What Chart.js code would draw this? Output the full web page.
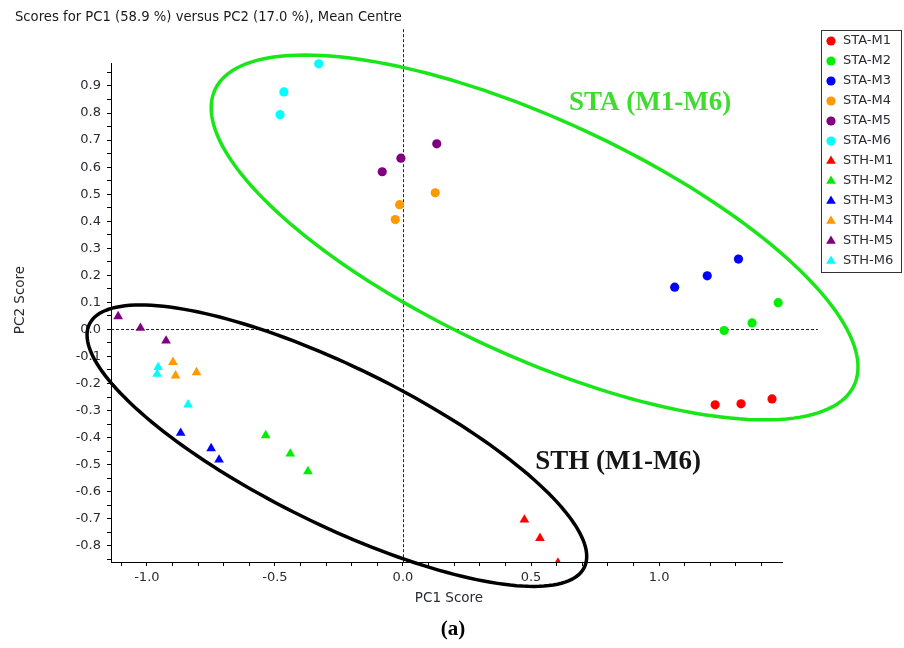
<!DOCTYPE html>
<html>
<head>
<meta charset="utf-8">
<script src="https://cdn.jsdelivr.net/npm/chart.js@4"></script>
<style>
  html, body { margin: 0; padding: 0; background: #fff; }
  #wrap { width: 904px; height: 648px; }
</style>
</head>
<body>
<div id="wrap"><canvas id="scores" width="904" height="648"></canvas></div>
<script>
// --- data ---
const seriesNames = ['STA-M1', 'STA-M2', 'STA-M3', 'STA-M4', 'STA-M5', 'STA-M6',
                     'STH-M1', 'STH-M2', 'STH-M3', 'STH-M4', 'STH-M5', 'STH-M6'];

const staM1 = [{x: 1.219, y: -0.279}, {x: 1.320, y: -0.275}, {x: 1.441, y: -0.257}];
const staM2 = [{x: 1.254, y: -0.004}, {x: 1.363, y: 0.024}, {x: 1.465, y: 0.099}];
const staM3 = [{x: 1.061, y: 0.156}, {x: 1.188, y: 0.198}, {x: 1.310, y: 0.260}];
const staM4 = [{x: 0.126, y: 0.505}, {x: -0.013, y: 0.461}, {x: -0.030, y: 0.406}];
const staM5 = [{x: 0.132, y: 0.686}, {x: -0.008, y: 0.633}, {x: -0.081, y: 0.583}];
const staM6 = [{x: -0.329, y: 0.982}, {x: -0.465, y: 0.878}, {x: -0.480, y: 0.794}];

const sthM1 = [{x: 0.474, y: -0.704}, {x: 0.535, y: -0.772}, {x: 0.605, y: -0.863}];
const sthM2 = [{x: -0.536, y: -0.392}, {x: -0.440, y: -0.460}, {x: -0.371, y: -0.525}];
const sthM3 = [{x: -0.868, y: -0.383}, {x: -0.749, y: -0.440}, {x: -0.718, y: -0.482}];
const sthM4 = [{x: -0.898, y: -0.121}, {x: -0.888, y: -0.171}, {x: -0.806, y: -0.159}];
const sthM5 = [{x: -1.112, y: 0.048}, {x: -1.025, y: 0.005}, {x: -0.925, y: -0.042}];
const sthM6 = [{x: -0.956, y: -0.140}, {x: -0.960, y: -0.165}, {x: -0.839, y: -0.278}];

const seriesData = [staM1, staM2, staM3, staM4, staM5, staM6, sthM1, sthM2, sthM3, sthM4, sthM5, sthM6];

// group ellipses (centre + two half-axes, in score units)
const staEllipse = {cx: 0.514, cy: 0.340, ux: 1.248, uy: -0.546, vx: -0.193, vy: -0.396};
const sthEllipse = {cx: -0.258, cy: -0.430, ux: 0.966, uy: -0.450, vx: -0.136, vy: -0.261};

const xRange = [-1.14, 1.48];
const yRange = [-0.86, 0.985];

// --- styles ---
const colors = ['#ff0000', '#00ee00', '#0000ff', '#ff9900', '#800080', '#00ffff'];
const FONT = '"DejaVu Sans", sans-serif';
const TEXT = '#2a2a35';

const datasets = seriesData.map((pts, i) => {
    const isSta = i < 6;
    return {
        label: seriesNames[i],
        data: pts,
        clip: isSta ? false : undefined,
        pointStyle: isSta ? 'circle' : 'triangle',
        pointRadius: isSta ? 4.6 : 5.6,
        pointHoverRadius: isSta ? 4.6 : 5.6,
        pointBorderWidth: 0,
        backgroundColor: colors[i % 6],
        borderColor: colors[i % 6]
    };
});

// draw the ellipse by sending points of it through the scales
function strokeEllipse(ctx, xs, ys, e, color) {
    ctx.save();
    ctx.strokeStyle = color;
    ctx.lineWidth = 3.5;
    ctx.beginPath();
    for (let k = 0; k <= 180; k++) {
        const t = k / 180 * Math.PI * 2;
        const px = xs.getPixelForValue(e.cx + e.ux * Math.cos(t) + e.vx * Math.sin(t));
        const py = ys.getPixelForValue(e.cy + e.uy * Math.cos(t) + e.vy * Math.sin(t));
        if (k === 0) ctx.moveTo(px, py); else ctx.lineTo(px, py);
    }
    ctx.closePath();
    ctx.stroke();
    ctx.restore();
}

const overlay = {
    id: 'overlay',
    beforeDatasetsDraw(chart) {
        const {ctx, chartArea, scales: {x, y}} = chart;
        ctx.save();
        ctx.strokeStyle = '#222';
        ctx.lineWidth = 1;
        ctx.setLineDash([3, 2]);
        const x0 = Math.round(x.getPixelForValue(0)) + 0.5;
        const y0 = Math.round(y.getPixelForValue(0)) + 0.5;
        ctx.beginPath();
        ctx.moveTo(x0, y.getPixelForValue(1.11));
        ctx.lineTo(x0, chartArea.bottom);
        ctx.moveTo(chartArea.left, y0);
        ctx.lineTo(x.getPixelForValue(1.62), y0);
        ctx.stroke();
        ctx.restore();
    },
    afterDatasetsDraw(chart) {
        const {ctx, scales: {x, y}} = chart;
        strokeEllipse(ctx, x, y, staEllipse, '#19e619');
        strokeEllipse(ctx, x, y, sthEllipse, '#000');

        ctx.save();
        ctx.font = 'bold 27px "Liberation Serif", serif';
        ctx.textAlign = 'center';
        ctx.textBaseline = 'middle';
        ctx.fillStyle = '#3fdc2f';
        ctx.fillText('STA (M1-M6)', x.getPixelForValue(0.965), y.getPixelForValue(0.837));
        ctx.fillStyle = '#151515';
        ctx.fillText('STH (M1-M6)', x.getPixelForValue(0.840), y.getPixelForValue(-0.490));
        ctx.restore();
    },
    afterDraw(chart) {
        const {ctx} = chart;
        ctx.save();
        // title
        ctx.fillStyle = '#1a1a1a';
        ctx.font = '13.2px ' + FONT;
        ctx.textAlign = 'left';
        ctx.textBaseline = 'middle';
        ctx.fillText('Scores for PC1 (58.9 %) versus PC2 (17.0 %), Mean Centre', 15, 18);

        // axis titles
        ctx.fillStyle = TEXT;
        ctx.font = '13.5px ' + FONT;
        ctx.textAlign = 'center';
        ctx.fillText('PC1 Score', 449, 598);
        ctx.save();
        ctx.translate(20, 300);
        ctx.rotate(-Math.PI / 2);
        ctx.fillText('PC2 Score', 0, 0);
        ctx.restore();

        // panel letter
        ctx.fillStyle = '#000';
        ctx.font = 'bold 21px "Liberation Serif", serif';
        ctx.fillText('(a)', 453, 630);

        // legend
        const lx = 821, ly = 30, lw = 80, lh = 242;
        ctx.strokeStyle = '#333';
        ctx.lineWidth = 1;
        ctx.strokeRect(lx + 0.5, ly + 0.5, lw, lh);
        ctx.font = '13px ' + FONT;
        ctx.textAlign = 'left';
        chart.data.datasets.forEach((ds, i) => {
            const cy = ly + 11 + i * 20;
            const cx = lx + 10;
            ctx.fillStyle = ds.backgroundColor;
            ctx.beginPath();
            if (ds.pointStyle === 'circle') {
                ctx.arc(cx, cy, 4.6, 0, Math.PI * 2);
            } else {
                const r = 5.6;
                ctx.moveTo(cx, cy - r);
                ctx.lineTo(cx + r * 0.866, cy + r / 2);
                ctx.lineTo(cx - r * 0.866, cy + r / 2);
                ctx.closePath();
            }
            ctx.fill();
            ctx.fillStyle = TEXT;
            ctx.fillText(ds.label, lx + 22, cy);
        });
        ctx.restore();
    }
};

const tickFont = { family: FONT, size: 13 };

new Chart(document.getElementById('scores').getContext('2d'), {
    type: 'scatter',
    data: { datasets },
    options: {
        responsive: false,
        animation: false,
        events: [],
        layout: { padding: { left: 0, top: 63, right: 122, bottom: 48 } },
        plugins: { legend: { display: false }, title: { display: false }, tooltip: { enabled: false } },
        scales: {
            x: {
                type: 'linear',
                position: 'bottom',
                min: xRange[0],
                max: xRange[1],
                afterFit: (s) => { s.height = 38; },
                grid: { drawOnChartArea: false, tickLength: 4, color: '#000' },
                border: { color: '#000', width: 1 },
                ticks: {
                    stepSize: 0.1,
                    includeBounds: false,
                    autoSkip: false,
                    maxRotation: 0,
                    maxTicksLimit: 100,
                    padding: 4,
                    color: TEXT,
                    font: tickFont,
                    callback: (v) => {
                        const r = Math.round(v * 10);
                        return r % 5 === 0 ? (r === 0 ? '0.0' : (r / 10).toFixed(1)) : '';
                    }
                }
            },
            y: {
                type: 'linear',
                position: 'left',
                min: yRange[0],
                max: yRange[1],
                afterFit: (s) => { s.width = 111; },
                grid: { drawOnChartArea: false, tickLength: 4, color: '#000' },
                border: { color: '#000', width: 1 },
                ticks: {
                    stepSize: 0.05,
                    includeBounds: false,
                    autoSkip: false,
                    maxTicksLimit: 100,
                    padding: 6,
                    color: TEXT,
                    font: tickFont,
                    callback: (v) => {
                        const r = Math.round(v * 20);
                        return r % 2 === 0 ? (r === 0 ? '0.0' : (r / 20).toFixed(1)) : '';
                    }
                }
            }
        }
    },
    plugins: [overlay]
});
</script>
</body>
</html>
